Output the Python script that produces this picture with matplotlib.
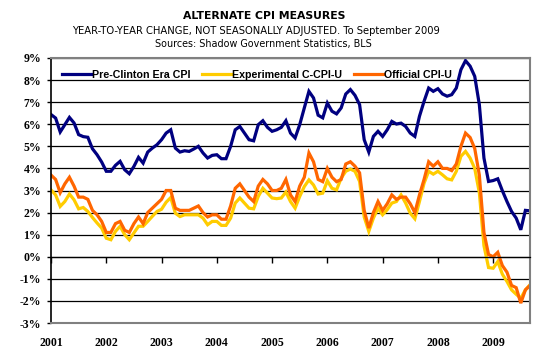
import numpy as np
import matplotlib
matplotlib.use("Agg")
import matplotlib.pyplot as plt

years = ["2001", "2002", "2003", "2004", "2005", "2006", "2007", "2008", "2009"]
series_names = ["Pre-Clinton Era CPI", "Experimental C-CPI-U", "Official CPI-U"]

pre_clinton = [
    6.44, 6.28, 5.65, 5.98, 6.31, 6.06, 5.53, 5.44, 5.41, 4.89, 4.62, 4.29,
    3.87, 3.87, 4.14, 4.32, 3.94, 3.76, 4.09, 4.50, 4.24, 4.74, 4.92, 5.07,
    5.30, 5.60, 5.75, 4.92, 4.74, 4.80, 4.77, 4.88, 5.00, 4.70, 4.47, 4.59,
    4.62, 4.44, 4.44, 5.00, 5.75, 5.90, 5.60, 5.30, 5.25, 5.98, 6.16, 5.86,
    5.68, 5.75, 5.86, 6.16, 5.60, 5.38, 5.98, 6.74, 7.49, 7.19, 6.41, 6.29,
    6.96, 6.59, 6.47, 6.74, 7.37, 7.57, 7.31, 6.89, 5.30, 4.74, 5.45, 5.68,
    5.45, 5.75, 6.13, 6.01, 6.05, 5.90, 5.60, 5.45, 6.36, 7.04, 7.64, 7.49,
    7.61, 7.37, 7.27, 7.34, 7.64, 8.47, 8.88, 8.63, 8.17, 6.89, 4.47, 3.41,
    3.45, 3.53, 2.99, 2.50, 2.05, 1.75, 1.22, 2.10, 2.08,
]

experimental = [
    3.03, 2.80, 2.28, 2.50, 2.84, 2.58, 2.17, 2.23, 2.05, 1.78, 1.53, 1.30,
    0.84, 0.77, 1.15, 1.38, 1.00, 0.77, 1.08, 1.38, 1.38, 1.60, 1.83, 2.05,
    2.15, 2.47, 2.68, 1.97, 1.82, 1.90, 1.90, 1.90, 1.90, 1.75, 1.45, 1.60,
    1.60, 1.42, 1.42, 1.75, 2.43, 2.66, 2.43, 2.20, 2.17, 2.73, 3.10, 2.88,
    2.66, 2.63, 2.66, 2.93, 2.50, 2.20, 2.73, 3.18, 3.48, 3.25, 2.84, 2.88,
    3.44, 3.10, 3.03, 3.56, 3.87, 3.97, 3.87, 3.41, 1.80, 1.15, 1.75, 2.20,
    1.90, 2.13, 2.43, 2.50, 2.80, 2.43, 1.97, 1.72, 2.50, 3.33, 3.87, 3.74,
    3.87, 3.71, 3.53, 3.48, 3.87, 4.55, 4.77, 4.47, 4.00, 2.90, 0.50, -0.49,
    -0.52, -0.22, -0.79, -1.12, -1.50, -1.70, -1.88, -1.50, -1.27,
]

official = [
    3.7, 3.5, 2.9, 3.3, 3.6, 3.2, 2.7, 2.7, 2.6, 2.1, 1.9, 1.6,
    1.1, 1.1, 1.5, 1.6, 1.2, 1.1, 1.5, 1.8, 1.5, 2.0, 2.2, 2.4,
    2.6, 3.0, 3.0, 2.2, 2.1, 2.1, 2.1, 2.2, 2.3, 2.0, 1.8, 1.9,
    1.9, 1.7, 1.7, 2.3, 3.1, 3.3, 3.0, 2.7, 2.5, 3.2, 3.5, 3.3,
    3.0, 3.0, 3.1, 3.5, 2.8, 2.5, 3.2, 3.6, 4.7, 4.3, 3.5, 3.4,
    4.0, 3.6, 3.4, 3.5, 4.2, 4.3, 4.1, 3.8, 2.1, 1.3, 2.0, 2.5,
    2.1, 2.4, 2.8, 2.6, 2.7, 2.7, 2.4, 2.0, 2.8, 3.5, 4.3, 4.1,
    4.3, 4.0, 4.0, 3.9, 4.2, 5.0, 5.6, 5.4, 4.9, 3.7, 1.1, 0.1,
    0.0, 0.2, -0.4, -0.7, -1.3, -1.4, -2.1, -1.5, -1.3,
]

x = np.arange(len(official))

fig = plt.figure(figsize=(5.52, 3.59), dpi=100)
ax = fig.add_axes([51/552, 1-323/359, 479/552, 265/359])

ax.plot(x, pre_clinton, color="#000080", lw=2.3, label=series_names[0], solid_joinstyle="miter")
ax.plot(x, experimental, color="#FFCC00", lw=2.3, label=series_names[1], solid_joinstyle="miter")
ax.plot(x, official, color="#FF6600", lw=2.3, label=series_names[2], solid_joinstyle="miter")

ax.set_xlim(0, len(official) - 1)
ax.set_ylim(-3, 9)

ax.set_yticks(range(-3, 10))
ax.set_yticklabels([f"{v}%" for v in range(-3, 10)])
ax.yaxis.grid(True, color="black", lw=0.9)
ax.set_axisbelow(True)

ax.set_xticks(np.arange(0, len(official), 12))
ax.set_xticklabels(years)

ax.spines["bottom"].set_position(("data", 0))
ax.spines["bottom"].set_color("black")
ax.spines["bottom"].set_linewidth(0.9)
ax.spines["left"].set_color("black")
ax.spines["left"].set_linewidth(1.2)
for s in ["top", "right"]:
    ax.spines[s].set_color("#808080")
    ax.spines[s].set_linewidth(1.5)
ax.axhline(-3, color="#808080", lw=1.5, clip_on=False, zorder=3)

serif_bold = dict(family="Liberation Serif", weight="bold", size=8.5)
ax.tick_params(axis="y", direction="out", length=3, width=1, pad=4, colors="black")
ax.tick_params(axis="x", direction="out", length=4, width=1, pad=53.5)
for lab in ax.get_yticklabels() + ax.get_xticklabels():
    lab.set_fontproperties(matplotlib.font_manager.FontProperties(**serif_bold))

leg = ax.legend(loc="center left", bbox_to_anchor=(0.023, (323-75)/265), ncol=3,
                frameon=False, borderaxespad=0, borderpad=0, handlelength=2.7,
                handletextpad=0.1, columnspacing=1.1,
                prop=dict(family="Liberation Sans", weight="bold", size=7.7))
for h in leg.get_lines():
    h.set_linewidth(2.3)

fig.text(264/552, 1-16/359, "ALTERNATE CPI MEASURES", ha="center", va="center",
         fontsize=7.8, fontweight="bold", family="DejaVu Sans")
fig.text(256/552, 1-30.5/359, "YEAR-TO-YEAR CHANGE, NOT SEASONALLY ADJUSTED. To September 2009",
         ha="center", va="center", fontsize=7.2, family="DejaVu Sans")
fig.text(263/552, 1-44/359, "Sources: Shadow Government Statistics, BLS",
         ha="center", va="center", fontsize=6.9, family="DejaVu Sans")

fig.savefig("out.png", dpi=100)
